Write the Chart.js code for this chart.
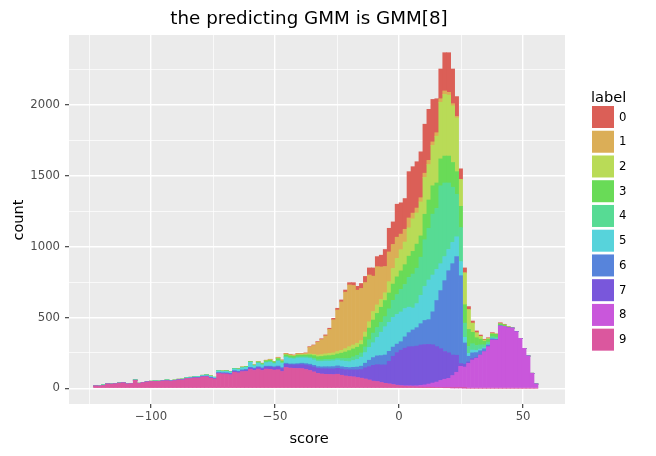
<!DOCTYPE html>
<html>
<head>
<meta charset="utf-8">
<title>the predicting GMM is GMM[8]</title>
<script src="https://cdn.jsdelivr.net/npm/chart.js@4.4.1/dist/chart.umd.min.js"></script>
<style>
	html, body { margin: 0; padding: 0; background: #ffffff; }
	#box { width: 656px; height: 456px; }
</style>
</head>
<body>
<div id="box"><canvas id="gmmChart"></canvas></div>
<script>
'use strict';

// *** Text ***
const chartTitle = 'the predicting GMM is GMM[8]';
const xTitle = 'score';
const yTitle = 'count';
const legendTitle = 'label';

// *** Categories ***
const labelNames = ['0', '1', '2', '3', '4', '5', '6', '7', '8', '9'];
const labelColors = ['#db5f57', '#dbae57', '#b9db57', '#69db57', '#57db94', '#57d3db', '#5784db', '#7957db', '#c957db', '#db579e'];

// histogram bins: 112 bins of width 1.6 starting at -123.2
const binStart = -123.2;
const binWidth = 1.6;

// grid lines (major ones get a label)
const xGridTicks = [-125, -100, -75, -50, -25, 0, 25, 50];
const xMajorTicks = [-100, -50, 0, 50];
const yGridTicks = [0, 250, 500, 750, 1000, 1250, 1500, 1750, 2000, 2250];
const yMajorTicks = [0, 500, 1000, 1500, 2000];

// *** Counts per label, one value per bin ***
const count0 = [
	0, 0, 0, 0, 0, 0, 0, 0, 0, 0,
	0, 0, 0, 0, 0, 0, 0, 0, 0, 0,
	0, 0, 0, 0, 0, 0, 0, 0, 0, 0,
	0, 0, 0, 0, 0, 0, 0, 0, 0, 0,
	0, 0, 0, 0, 1, 0, 1, 1, 2, 2,
	1, 2, 2, 2, 4, 4, 5, 6, 7, 8,
	10, 12, 14, 15, 16, 20, 27, 35, 43, 50,
	58, 71, 83, 120, 167, 159, 233, 221, 217, 327,
	328, 327, 324, 346, 360, 300, 240, 210, 270, 280,
	245, 140, 75, 35, 21, 15, 13, 9, 6, 6,
	7, 0, 8, 5, 2, 3, 0, 0, 0, 0,
	0, 0
];
const count1 = [
	0, 0, 0, 0, 0, 0, 0, 0, 0, 0,
	0, 0, 0, 0, 0, 0, 0, 0, 0, 0,
	0, 0, 0, 0, 0, 0, 0, 0, 0, 0,
	0, 0, 0, 0, 0, 0, 1, 0, 1, 0,
	1, 2, 2, 3, 4, 3, 6, 5, 7, 7,
	6, 8, 8, 10, 48, 62, 90, 106, 127, 170,
	234, 294, 342, 399, 436, 420, 375, 368, 350, 330,
	250, 270, 230, 185, 210, 170, 150, 110, 90, 70,
	40, 35, 30, 30, 30, 25, 25, 25, 25, 20,
	15, 10, 0, 0, 0, 0, 0, 0, 0, 0,
	0, 0, 0, 0, 0, 0, 0, 0, 0, 0,
	0, 0
];
const count2 = [
	0, 0, 0, 0, 0, 0, 0, 0, 0, 0,
	0, 0, 0, 0, 0, 0, 0, 0, 0, 0,
	0, 0, 0, 0, 0, 0, 0, 0, 0, 0,
	0, 0, 0, 0, 0, 0, 0, 1, 0, 0,
	0, 0, 1, 1, 2, 1, 2, 2, 2, 2,
	2, 3, 3, 3, 6, 9, 12, 13, 14, 15,
	16, 17, 20, 24, 28, 28, 28, 28, 35, 45,
	60, 60, 55, 55, 80, 110, 130, 150, 160, 200,
	230, 220, 240, 260, 250, 285, 330, 400, 435, 430,
	400, 380, 190, 225, 140, 65, 35, 20, 8, 5,
	3, 2, 0, 0, 0, 0, 0, 0, 0, 0,
	0, 0
];
const count3 = [
	0, 0, 0, 0, 0, 0, 0, 0, 0, 0,
	0, 0, 0, 0, 0, 0, 0, 0, 0, 0,
	0, 0, 0, 1, 0, 0, 1, 0, 0, 1,
	0, 1, 1, 2, 1, 2, 2, 2, 3, 2,
	3, 5, 6, 8, 9, 7, 12, 10, 12, 12,
	11, 12, 11, 12, 16, 20, 22, 24, 25, 27,
	28, 30, 38, 46, 54, 56, 57, 59, 70, 82,
	92, 100, 106, 114, 112, 115, 125, 130, 140, 150,
	160, 170, 150, 180, 200, 200, 180, 190, 190, 190,
	175, 160, 150, 130, 120, 80, 55, 40, 25, 20,
	18, 20, 10, 10, 5, 0, 0, 0, 0, 0,
	0, 0
];
const count4 = [
	0, 0, 0, 0, 0, 0, 0, 0, 0, 0,
	0, 0, 0, 0, 0, 0, 0, 0, 0, 0,
	1, 1, 1, 1, 1, 1, 1, 1, 2, 2,
	0, 2, 2, 2, 2, 3, 2, 3, 3, 3,
	3, 4, 4, 5, 5, 5, 6, 6, 7, 7,
	7, 8, 8, 9, 10, 11, 12, 12, 12, 12,
	12, 12, 16, 20, 24, 26, 28, 30, 40, 55,
	68, 70, 70, 71, 95, 120, 140, 160, 170, 210,
	240, 250, 270, 330, 365, 430, 430, 550, 520, 470,
	390, 300, 240, 100, 50, 45, 35, 30, 20, 15,
	12, 12, 5, 0, 0, 0, 0, 0, 0, 0,
	0, 0
];
const count5 = [
	0, 1, 5, 1, 1, 1, 2, 2, 1, 1,
	2, 2, 2, 2, 2, 3, 3, 3, 6, 3,
	3, 3, 4, 4, 5, 5, 6, 6, 7, 7,
	8, 12, 10, 11, 10, 12, 13, 14, 15, 35,
	16, 25, 20, 25, 28, 22, 35, 30, 40, 38,
	36, 40, 38, 40, 40, 38, 36, 38, 40, 40,
	41, 42, 42, 42, 42, 48, 55, 64, 75, 90,
	105, 130, 165, 200, 205, 210, 210, 210, 200, 180,
	155, 170, 200, 240, 280, 260, 220, 190, 170, 150,
	150, 140, 100, 40, 20, 20, 15, 12, 8, 5,
	4, 3, 0, 0, 0, 0, 0, 0, 0, 0,
	0, 0
];
const count6 = [
	0, 0, 0, 0, 0, 0, 0, 0, 0, 0,
	0, 0, 0, 0, 0, 0, 0, 0, 0, 0,
	0, 0, 0, 0, 0, 1, 1, 1, 1, 2,
	1, 2, 2, 3, 3, 3, 4, 4, 4, 5,
	5, 5, 5, 6, 6, 6, 7, 7, 8, 6,
	7, 8, 9, 10, 11, 12, 12, 13, 14, 15,
	16, 17, 16, 16, 16, 18, 20, 23, 32, 45,
	55, 62, 66, 70, 70, 65, 60, 60, 80, 100,
	118, 130, 150, 170, 175, 233, 326, 410, 500, 580,
	645, 697, 620, 150, 40, 40, 35, 30, 20, 12,
	8, 5, 0, 0, 0, 0, 0, 0, 0, 0,
	0, 0
];
const count7 = [
	0, 0, 0, 0, 0, 0, 0, 0, 0, 0,
	1, 1, 1, 1, 1, 1, 1, 1, 1, 1,
	1, 2, 2, 2, 3, 3, 3, 4, 4, 4,
	4, 5, 6, 6, 7, 8, 8, 9, 10, 10,
	11, 12, 13, 15, 16, 18, 20, 21, 23, 24,
	25, 27, 30, 32, 34, 35, 36, 38, 40, 40,
	41, 42, 44, 46, 48, 50, 55, 62, 80, 95,
	112, 120, 125, 130, 160, 200, 230, 250, 265, 275,
	277, 280, 285, 285, 280, 270, 250, 225, 196, 180,
	145, 120, 20, 20, 10, 10, 5, 0, 0, 0,
	0, 0, 0, 0, 0, 0, 0, 0, 0, 0,
	0, 0
];
const count8 = [
	0, 0, 0, 0, 0, 0, 0, 0, 0, 0,
	0, 0, 0, 0, 0, 0, 0, 0, 0, 0,
	0, 0, 0, 0, 0, 0, 0, 0, 0, 0,
	0, 0, 0, 0, 0, 0, 0, 0, 0, 0,
	0, 0, 0, 0, 0, 0, 0, 0, 0, 0,
	0, 0, 0, 0, 0, 0, 0, 0, 0, 0,
	0, 0, 0, 0, 0, 0, 0, 0, 0, 0,
	0, 0, 0, 0, 1, 1, 2, 3, 4, 5,
	5, 8, 12, 16, 22, 30, 38, 50, 60, 66,
	87, 110, 152, 148, 176, 200, 212, 235, 259, 294,
	341, 341, 440, 437, 428, 425, 400, 353, 282, 228,
	106, 30
];
const count9 = [
	16, 15, 19, 30, 29, 31, 36, 38, 30, 32,
	56, 33, 39, 44, 47, 48, 47, 51, 52, 50,
	53, 58, 58, 68, 69, 72, 72, 80, 81, 71,
	65, 103, 101, 100, 95, 113, 108, 117, 119, 133,
	126, 135, 126, 135, 134, 128, 130, 118, 146, 142,
	140, 139, 138, 132, 125, 115, 105, 100, 98, 97,
	96, 99, 92, 86, 82, 80, 75, 71, 65, 58,
	50, 47, 40, 35, 30, 25, 20, 16, 14, 13,
	12, 10, 9, 8, 8, 7, 6, 5, 4, 4,
	3, 3, 3, 2, 0, 0, 0, 0, 0, 0,
	0, 0, 0, 0, 0, 0, 0, 0, 0, 0,
	0, 0
];
const counts = [count0, count1, count2, count3, count4, count5, count6, count7, count8, count9];

const fontFamily = '"DejaVu Sans", Verdana, sans-serif';

function binCenters() {
	const aryCenters = [];
	for (let i = 0; i < count0.length; i++) {
		aryCenters.push(binStart + binWidth * (i + 0.5));
	}
	return aryCenters;
}

function fmtTick(_v) {
	return _v < 0 ? '\u2212' + Math.abs(_v) : String(_v);
}

function prepareDataSets() {
	const centers = binCenters();
	const aryDataSets = [];
	// label 9 is stacked at the bottom, label 0 on top
	for (let k = labelNames.length - 1; k >= 0; k--) {
		aryDataSets.push({
			label: labelNames[k],
			backgroundColor: labelColors[k],
			borderWidth: 0,
			barPercentage: 1,
			categoryPercentage: 1,
			data: counts[k].map((v, i) => ({ x: centers[i], y: v })),
		});
	}
	return aryDataSets;
}

function isMajor(_ctx, _majors) {
	return _ctx.tick && _majors.includes(Math.round(_ctx.tick.value));
}

// grey panel behind the grid
const panelPlugin = {
	id: 'panel',
	beforeDraw(chart) {
		const a = chart.chartArea;
		const ctx = chart.ctx;
		ctx.save();
		ctx.fillStyle = '#ebebeb';
		ctx.fillRect(a.left, a.top, a.right - a.left, a.bottom - a.top);
		ctx.restore();
	},
};

// title, axis titles and the legend
const textPlugin = {
	id: 'texts',
	afterDraw(chart) {
		const ctx = chart.ctx;
		ctx.save();
		ctx.fillStyle = '#000000';
		ctx.textAlign = 'center';
		ctx.textBaseline = 'alphabetic';
		ctx.font = `18.3px ${fontFamily}`;
		ctx.fillText(chartTitle, 309, 24);

		ctx.font = `14.6px ${fontFamily}`;
		ctx.fillText(xTitle, 309, 443);

		ctx.save();
		ctx.translate(23, 220);
		ctx.rotate(-Math.PI / 2);
		ctx.fillText(yTitle, 0, 0);
		ctx.restore();

		ctx.textAlign = 'left';
		ctx.fillText(legendTitle, 591, 102);

		ctx.font = `11.7px ${fontFamily}`;
		ctx.textBaseline = 'middle';
		labelNames.forEach((name, i) => {
			const y = 106 + 24.74 * i;
			ctx.fillStyle = labelColors[i];
			ctx.fillRect(592, y, 22, 22);
			ctx.fillStyle = '#000000';
			ctx.fillText(name, 619, y + 11.5);
		});
		ctx.restore();
	},
};

function prepareOptions() {
	return {
		responsive: true,
		maintainAspectRatio: false,
		animation: false,
		devicePixelRatio: 1,
		layout: { padding: { left: 0, right: 91, top: 35, bottom: 0 } },
		plugins: {
			legend: { display: false },
			tooltip: { enabled: false },
			title: { display: false },
		},
		scales: {
			x: {
				type: 'linear',
				stacked: true,
				min: -133.1,
				max: 66.9,
				offset: false,
				border: { display: false },
				grid: {
					offset: false,
					color: '#ffffff',
					lineWidth: (ctx) => (isMajor(ctx, xMajorTicks) ? 1.4 : 0.7),
					tickColor: (ctx) => (isMajor(ctx, xMajorTicks) ? '#333333' : 'rgba(0,0,0,0)'),
					tickWidth: 1.1,
					tickLength: 4,
				},
				ticks: {
					autoSkip: false,
					maxRotation: 0,
					padding: 2,
					color: '#4d4d4d',
					font: { family: fontFamily, size: 11.7 },
					callback: (v) => (xMajorTicks.includes(Math.round(v)) ? fmtTick(Math.round(v)) : ''),
				},
				afterBuildTicks: (scale) => {
					scale.ticks = xGridTicks.map((v) => ({ value: v }));
				},
				afterFit: (scale) => { scale.height = 52; },
			},
			y: {
				type: 'linear',
				stacked: true,
				min: -111,
				max: 2495,
				border: { display: false },
				grid: {
					color: '#ffffff',
					lineWidth: (ctx) => (isMajor(ctx, yMajorTicks) ? 1.4 : 0.7),
					tickColor: (ctx) => (isMajor(ctx, yMajorTicks) ? '#333333' : 'rgba(0,0,0,0)'),
					tickWidth: 1.1,
					tickLength: 4,
				},
				ticks: {
					autoSkip: false,
					padding: 5,
					color: '#4d4d4d',
					font: { family: fontFamily, size: 11.7 },
					callback: (v) => (yMajorTicks.includes(Math.round(v)) ? fmtTick(Math.round(v)) : ''),
				},
				afterBuildTicks: (scale) => {
					scale.ticks = yGridTicks.map((v) => ({ value: v }));
				},
				afterFit: (scale) => { scale.width = 69; },
			},
		},
	};
}

// *** Entry Point ***
const gmmChart = new Chart(document.getElementById('gmmChart'), {
	type: 'bar',
	data: { datasets: prepareDataSets() },
	options: prepareOptions(),
	plugins: [panelPlugin, textPlugin],
});
</script>
</body>
</html>
